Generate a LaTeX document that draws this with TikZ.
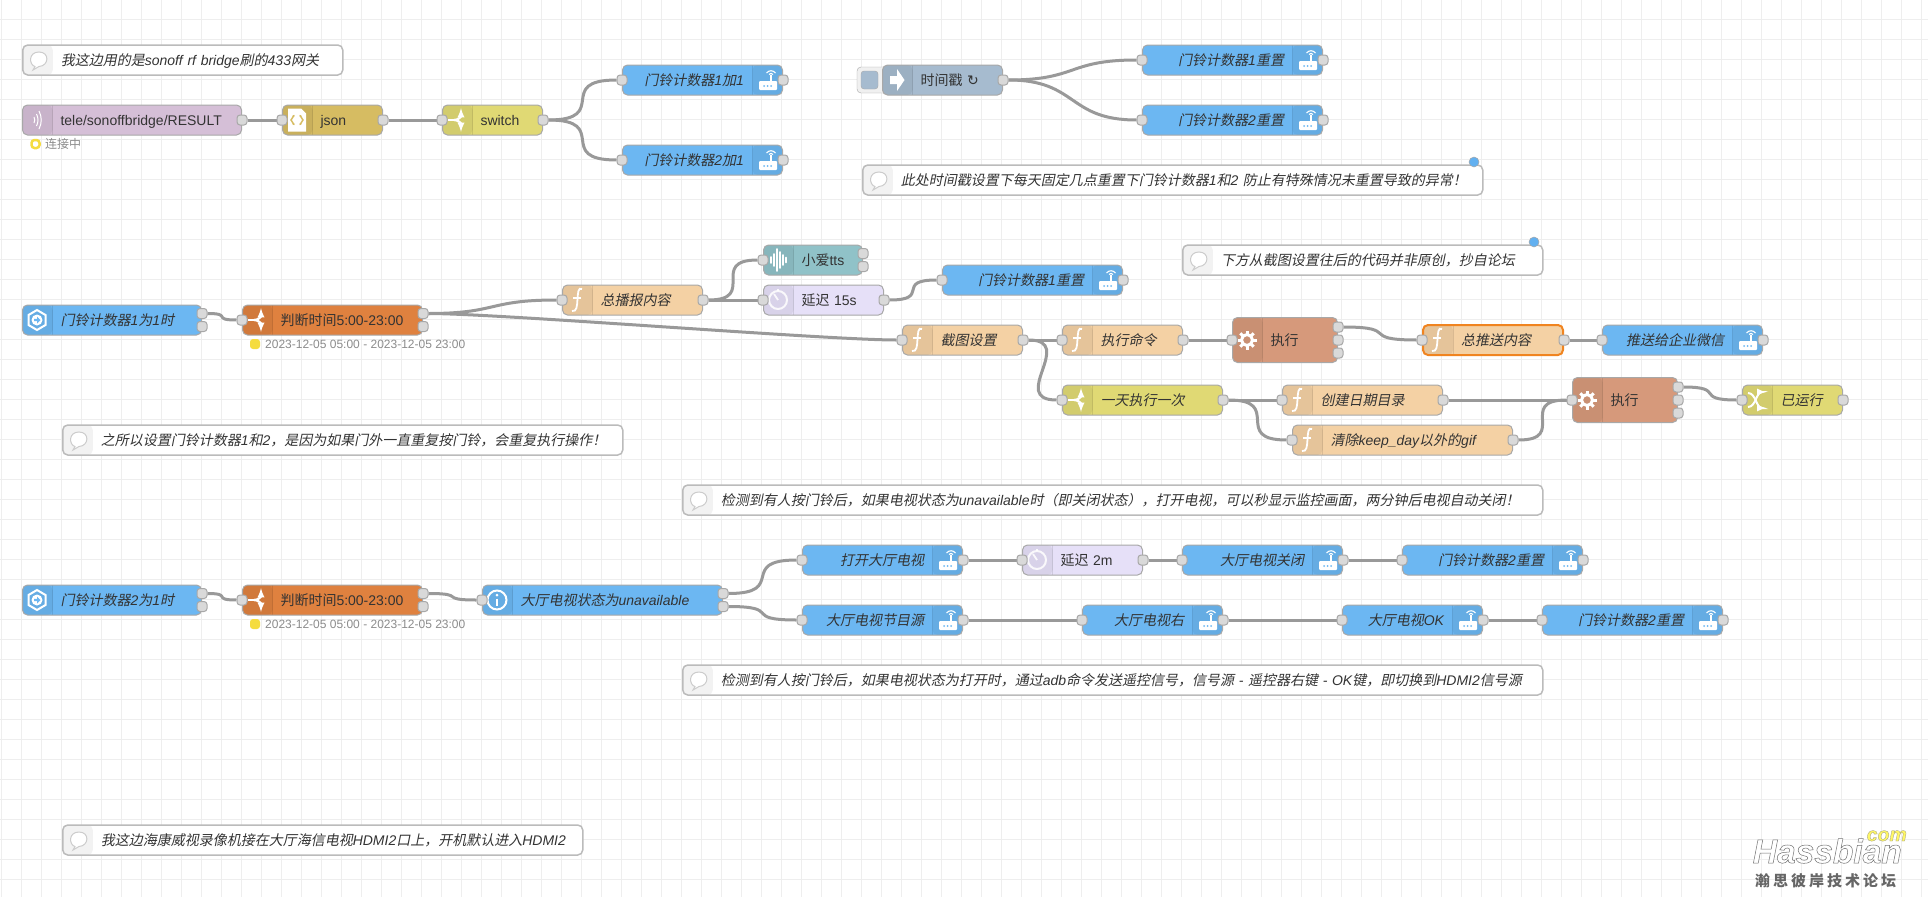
\documentclass[tikz,border=0pt]{standalone}
\usepackage{fontspec}
\setmainfont{Liberation Sans}
\newfontfamily\cjk[AutoFakeSlant=0.2]{Noto Sans CJK SC}
\newfontfamily\symf{DejaVu Sans}
\newfontfamily\wmfont[UprightFont={* Bold Italic},FakeBold=1.5]{Liberation Sans}
\newfontfamily\wmzh[LetterSpace=20]{Noto Sans CJK SC}
% han characters go to the cjk family, the rest stays in the main font
\newcount\cjkcode
\cjkcode="4E00
\loop\XeTeXcharclass\cjkcode=100 \advance\cjkcode by 1 \ifnum\cjkcode<"A000 \repeat
\cjkcode="3000
\loop\XeTeXcharclass\cjkcode=100 \advance\cjkcode by 1 \ifnum\cjkcode<"3040 \repeat
\cjkcode="FF00
\loop\XeTeXcharclass\cjkcode=100 \advance\cjkcode by 1 \ifnum\cjkcode<"FF60 \repeat
\def\cjkf{\cjk}
\XeTeXinterchartoks 0 100 = {\cjkf}
\XeTeXinterchartoks 4095 100 = {\cjkf}
\XeTeXinterchartoks 100 0 = {\rmfamily}
\XeTeXinterchartoks 100 4095 = {\rmfamily}
\XeTeXinterchartokenstate=1
\newcommand{\labelfont}{\fontsize{14}{16}\selectfont}
\definecolor{NodeLine}{HTML}{A8A8A8}
\definecolor{PortFill}{HTML}{D9D9D9}
\definecolor{WireC}{HTML}{999999}
\definecolor{GridC}{HTML}{EEEEEE}
\definecolor{LabelC}{HTML}{333333}
\definecolor{NoteLine}{HTML}{BBBBBB}
\definecolor{MqttC}{HTML}{D5BFD7}
\definecolor{JsonC}{HTML}{D6BC62}
\definecolor{SwitchC}{HTML}{E0D974}
\definecolor{HaC}{HTML}{6CB7F2}
\definecolor{InjC}{HTML}{A6BBCF}
\definecolor{TimeC}{HTML}{DF813F}
\definecolor{FnC}{HTML}{F4D1A4}
\definecolor{DelayC}{HTML}{E6E0F8}
\definecolor{TtsC}{HTML}{90C2C8}
\definecolor{ExecC}{HTML}{D6997B}
\definecolor{PickC}{HTML}{F08420}
\definecolor{DotC}{HTML}{F5DC3F}
\definecolor{BadgeC}{HTML}{62B0F0}
\usetikzlibrary{backgrounds}
\pgfdeclarelayer{gridlayer}
\pgfdeclarelayer{wirelayer}
\pgfsetlayers{gridlayer,wirelayer,main}
\tikzset{
  flow/.style={rectangle, draw=NodeLine, line width=1pt, rounded corners=5pt, minimum height=30pt, inner sep=0pt, anchor=west, text=LabelC, text height=12pt, text depth=2pt, font=\labelfont},
  italic/.style={font=\labelfont\itshape},
  lnode/.style 2 args={flow, fill=#2, minimum width=#1pt, text width=#1pt-2pt, align=left, execute at begin node={\kern37pt\relax},
    path picture={
      \fill[black,opacity=.06] (path picture bounding box.south west) rectangle ([xshift=30pt]path picture bounding box.north west);
      \draw[black,opacity=.1,line width=1pt] ([xshift=30pt]path picture bounding box.south west) -- ([xshift=30pt]path picture bounding box.north west);}},
  rnode/.style 2 args={flow, fill=#2, minimum width=#1pt, text width=#1pt-2pt, align=right, execute at end node={\kern37.5pt\relax},
    path picture={
      \fill[black,opacity=.06] (path picture bounding box.south east) rectangle ([xshift=-30pt]path picture bounding box.north east);
      \draw[black,opacity=.1,line width=1pt] ([xshift=-30pt]path picture bounding box.south east) -- ([xshift=-30pt]path picture bounding box.north east);}},
  cnode/.style={flow, draw=NoteLine, line width=1.5pt, italic, fill=white, minimum width=#1pt, text width=#1pt-2pt, align=left, execute at begin node={\kern37pt\relax},
    path picture={
      \fill[black!5] (path picture bounding box.south west) rectangle ([xshift=30pt]path picture bounding box.north west);}},
  port/.style={rectangle, draw=NodeLine, fill=PortFill, line width=1pt, rounded corners=3pt, minimum size=10pt, inner sep=0pt},
  wire/.style={draw=WireC, line width=3pt},
  gridline/.style={draw=GridC, line width=1pt},
  stat/.style={anchor=west, inner sep=0pt, text=gray!90, font=\fontsize{12}{14}\selectfont},
  solid dot/.style={rectangle, fill=DotC, rounded corners=3pt, minimum size=10pt, inner sep=0pt},
  ring dot/.style={rectangle, draw=DotC, fill=white, line width=2.5pt, rounded corners=3pt, minimum size=8pt, inner sep=0pt},
  badge/.style={circle, draw=NodeLine, fill=BadgeC, line width=.5pt, minimum size=10pt, inner sep=0pt},
  iconfn/.pic={
    \draw[white,line width=1.8pt] (5,-11) .. controls (1,-13) and (1,-7) .. (0.5,-1) .. controls (0,6) and (0,12) .. (-5,11);
    \draw[white,line width=1.5pt] (-4,-2) -- (4,-2);},
  iconsw/.pic={
    \draw[white,line width=2.2pt] (-9,0) -- (-3,0);
    \draw[white,line width=2.2pt,-latex] (-3,0) .. controls (1,0) and (4,-3) .. (4,-12);
    \draw[white,line width=2.2pt,-latex] (-3,0) .. controls (1,0) and (4,3) .. (4,12);},
  iconmix/.pic={
    \draw[white,line width=2pt,-latex] (-9,7) .. controls (-1,7) and (-1,-8) .. (5,-8) -- (9,-8);
    \draw[white,line width=2pt,-latex] (-9,-7) .. controls (-1,-7) and (-1,8) .. (5,8) -- (9,8);},
  iconhub/.pic={
    \fill[white,rounded corners=1pt] (-9,1) rectangle (9,10);
    \draw[white,line width=1.8pt] (3,2) -- (3,-5);
    \draw[white,line width=1.1pt] (-1.5,-7) .. controls (1,-10) and (5,-10) .. (7.5,-7);
    \draw[white,line width=1.1pt] (1,-5.5) .. controls (2,-7) and (4,-7) .. (5,-5.5);
    \foreach \dx in {-4,-0.5,3} \fill[HaC] (\dx,6) circle (1pt);},
  iconwave/.pic={
    \draw[white,line width=1pt] (-3,-3) .. controls (-2,-1) and (-2,1) .. (-3,3);
    \draw[white,line width=1pt] (-0.5,-6) .. controls (1.5,-2) and (1.5,2) .. (-0.5,6);
    \draw[white,line width=1pt] (2,-9) .. controls (5,-3) and (5,3) .. (2,9);},
  iconjson/.pic={
    \fill[white] (-9,-11.5) -- (4,-11.5) -- (9,-6.5) -- (9,11.5) -- (-9,11.5) -- cycle;
    \draw[JsonC,line width=1.5pt] (-2.5,-4.5) .. controls (-5,-4.5) and (-3.5,-1) .. (-6,0) .. controls (-3.5,1) and (-5,4.5) .. (-2.5,4.5);
    \draw[JsonC,line width=1.5pt] (2.5,-4.5) .. controls (5,-4.5) and (3.5,-1) .. (6,0) .. controls (3.5,1) and (5,4.5) .. (2.5,4.5);},
  iconinj/.pic={
    \fill[white] (-7,-4) -- (0,-4) -- (0,-11) -- (7.5,0) -- (0,11) -- (0,4) -- (-7,4) -- cycle;},
  iconstate/.pic={
    \draw[white,line width=2pt] (0,-10) -- (8.5,-5) -- (8.5,5) -- (0,10) -- (-8.5,5) -- (-8.5,-5) -- cycle;
    \fill[white] (0,0) circle (5.5pt);
    \fill[HaC] (-3,-1.2) -- (0,-1.2) -- (0,-3.5) -- (3.5,0) -- (0,3.5) -- (0,1.2) -- (-3,1.2) -- cycle;},
  iconinfo/.pic={
    \draw[white,line width=2pt] (0,0) circle (9.5pt);
    \fill[white] (0,-5) circle (1.5pt);
    \draw[white,line width=2.2pt] (0,-1.5) -- (0,6);},
  iconclock/.pic={
    \draw[white,line width=2pt,opacity=.85] (0,0) circle (9pt);
    \draw[white,line width=1.8pt,opacity=.85] (0,0) -- (-4,-6);
    \draw[white,line width=2pt,opacity=.85] (0,-9) -- (0,-11);},
  iconbars/.pic={
    \foreach \bx/\bh in {-7/3,-4/6,-1/11,2/8,5/5,8/2.5} \draw[white,line width=1.6pt,line cap=round] (\bx,-\bh) -- (\bx,\bh);},
  icongear/.pic={
    \draw[white,line width=3pt] (0,0) circle (5.5pt);
    \foreach \a in {0,45,...,315} \draw[white,line width=3pt] (\a:6) -- (\a:9.5);},
  iconnote/.pic={
    \draw[black!20,fill=white,line width=1pt] (-3,6.5) .. controls (-9,5) and (-10,-8) .. (1,-8) .. controls (12,-8) and (11,6) .. (1,6.5) -- (-5,10) -- cycle;},
}
\begin{document}
\begin{tikzpicture}[x=1pt, y=-1pt]
        \useasboundingbox (0,0) rectangle (1928,897);
        \begin{pgfonlayer}{gridlayer}
            \fill[white] (0,0) rectangle (1928,897);
            \foreach \gx in {1.7,21.7,...,1921.7} \draw[gridline] (\gx,0) -- (\gx,897);
            \foreach \gy in {19.5,39.5,...,879.5} \draw[gridline] (0,\gy) -- (1928,\gy);
        \end{pgfonlayer}

        % comments
        \node[cnode=320] (N1) at (22,60){我这边用的是sonoff rf bridge刷的433网关};
        \node[cnode=620] (N2) at (862,180){此处时间戳设置下每天固定几点重置下门铃计数器1和2 防止有特殊情况未重置导致的异常！};
        \node[cnode=360] (N3) at (1182,260){下方从截图设置往后的代码并非原创，抄自论坛};
        \node[cnode=560] (N4) at (62,440){之所以设置门铃计数器1和2，是因为如果门外一直重复按门铃，会重复执行操作！};
        \node[cnode=860] (N5) at (682,500){检测到有人按门铃后，如果电视状态为unavailable时（即关闭状态），打开电视，可以秒显示监控画面，两分钟后电视自动关闭！};
        \node[cnode=860] (N6) at (682,680){检测到有人按门铃后，如果电视状态为打开时，通过adb命令发送遥控信号，信号源 - 遥控器右键 - OK键，即切换到HDMI2信号源};
        \node[cnode=520] (N7) at (62,840){我这边海康威视录像机接在大厅海信电视HDMI2口上，开机默认进入HDMI2};
        \node[badge] (N2b) at (1474,162){};
        \node[badge] (N3b) at (1534,242){};

        % first row
        \node[lnode={219}{MqttC}] (Mq) at (22,120){tele/sonoffbridge/RESULT};
        \node[lnode={100}{JsonC}] (Js) at (282,120){json};
        \node[lnode={100}{SwitchC}] (Sw) at (442,120){switch};
        \node[rnode={160}{HaC}, italic] (Add1) at (622,80){门铃计数器1加1};
        \node[rnode={160}{HaC}, italic] (Add2) at (622,160){门铃计数器2加1};
        \node[ring dot] (MqD) at (35.5,144){};
        \node[stat] (MqS) at (45,144){连接中};

        \node[rectangle, draw=NodeLine, fill=black!6, rounded corners=4pt, minimum width=34pt, minimum height=26pt, inner sep=0pt] (InjB) at (874,80){};
        \node[rectangle, draw=NodeLine, fill=InjC, rounded corners=3pt, minimum width=17pt, minimum height=18pt, inner sep=0pt] (InjF) at (869.5,80){};
        \node[lnode={120}{InjC}] (Inj) at (882,80){时间戳 {\symf ↻}};
        \node[rnode={180}{HaC}, italic] (Rs1) at (1142,60){门铃计数器1重置};
        \node[rnode={180}{HaC}, italic] (Rs2) at (1142,120){门铃计数器2重置};

        % second row
        \node[lnode={179}{HaC}, italic] (Chg1) at (22,320){门铃计数器1为1时};
        \node[lnode={180}{TimeC}] (Tm1) at (242,320){判断时间5:00-23:00};
        \node[solid dot] (Tm1D) at (255,344){};
        \node[stat] (Tm1S) at (265,344){2023-12-05 05:00 - 2023-12-05 23:00};
        \node[lnode={140}{FnC}, italic] (Say) at (562,300){总播报内容};
        \node[lnode={99}{TtsC}] (Tts) at (763,260){小爱tts};
        \node[lnode={120}{DelayC}] (Dl1) at (763,300){延迟 15s};
        \node[rnode={180}{HaC}, italic] (Rs3) at (942,280){门铃计数器1重置};
        \node[lnode={120}{FnC}, italic] (Shot) at (902,340){截图设置};
        \node[lnode={120}{FnC}, italic] (Cmd) at (1062,340){执行命令};
        \node[lnode={105}{ExecC}, minimum height=45pt] (Ex1) at (1232,340){执行};
        \node[lnode={140}{FnC}, italic, draw=PickC, line width=2pt] (Push) at (1422,340){总推送内容};
        \node[rnode={160}{HaC}, italic] (Wx) at (1602,340){推送给企业微信};
        \node[lnode={160}{SwitchC}, italic] (Once) at (1062,400){一天执行一次};
        \node[lnode={160}{FnC}, italic] (Mk) at (1282,400){创建日期目录};
        \node[lnode={220}{FnC}, italic] (Cln) at (1292,440){清除keep\_day以外的gif};
        \node[lnode={105}{ExecC}, minimum height=45pt] (Ex2) at (1572,400){执行};
        \node[lnode={100}{SwitchC}, italic] (Done) at (1742,400){已运行};

        % third row
        \node[lnode={179}{HaC}, italic] (Chg2) at (22,600){门铃计数器2为1时};
        \node[lnode={180}{TimeC}] (Tm2) at (242,600){判断时间5:00-23:00};
        \node[solid dot] (Tm2D) at (255,624){};
        \node[stat] (Tm2S) at (265,624){2023-12-05 05:00 - 2023-12-05 23:00};
        \node[lnode={240}{HaC}, italic] (St) at (482,600){大厅电视状态为unavailable};
        \node[rnode={160}{HaC}, italic] (TvOn) at (802,560){打开大厅电视};
        \node[lnode={120}{DelayC}] (Dl2) at (1022,560){延迟 2m};
        \node[rnode={160}{HaC}, italic] (TvOff) at (1182,560){大厅电视关闭};
        \node[rnode={180}{HaC}, italic] (Rs4) at (1402,560){门铃计数器2重置};
        \node[rnode={160}{HaC}, italic] (TvSrc) at (802,620){大厅电视节目源};
        \node[rnode={140}{HaC}, italic] (TvR) at (1082,620){大厅电视右};
        \node[rnode={140}{HaC}, italic] (TvOk) at (1342,620){大厅电视OK};
        \node[rnode={180}{HaC}, italic] (Rs5) at (1542,620){门铃计数器2重置};

        % watermark
        \node[anchor=base east, inner sep=0pt, text=white, font=\wmfont\fontsize{33.5}{36}\selectfont] (WmH) at (1902,863){\special{pdf:code 0.45 0.45 0.45 RG}Hassbian};
        \node[anchor=base east, inner sep=0pt, text=yellow!60, font=\wmfont\fontsize{19.5}{22}\selectfont] (WmC) at (1907,841){\special{pdf:code 0.6 0.6 0.5 RG}com};
        \node[anchor=base west, inner sep=0pt, text=black!60, font=\def\cjkf{\wmzh\bfseries}\fontsize{15}{17}\selectfont] (WmZ) at (1755,886){瀚思彼岸技术论坛};

        % icons
        \foreach \n in {N1,N2,N3,N4,N5,N6,N7} \pic at ([xshift=16pt]\n.west) {iconnote};
        \foreach \n in {Say,Shot,Cmd,Push,Mk,Cln} \pic at ([xshift=15pt]\n.west) {iconfn};
        \foreach \n in {Sw,Tm1,Tm2,Once} \pic at ([xshift=15pt]\n.west) {iconsw};
        \foreach \n in {Add1,Add2,Rs1,Rs2,Rs3,Rs4,Rs5,Wx,TvOn,TvOff,TvSrc,TvR,TvOk} \pic at ([xshift=-15pt]\n.east) {iconhub};
        \foreach \n in {Chg1,Chg2} \pic at ([xshift=15pt]\n.west) {iconstate};
        \foreach \n in {Dl1,Dl2} \pic at ([xshift=15pt]\n.west) {iconclock};
        \foreach \n in {Ex1,Ex2} \pic at ([xshift=15pt]\n.west) {icongear};
        \pic at ([xshift=15pt]Mq.west) {iconwave};
        \pic at ([xshift=15pt]Js.west) {iconjson};
        \pic at ([xshift=15pt]Inj.west) {iconinj};
        \pic at ([xshift=15pt]St.west) {iconinfo};
        \pic at ([xshift=15pt]Tts.west) {iconbars};
        \pic at ([xshift=15pt]Done.west) {iconmix};

        % ports
        \foreach \n in {Js,Sw,Add1,Add2,Rs1,Rs2,Tm1,Say,Tts,Dl1,Rs3,Shot,Cmd,Ex1,Push,Wx,Once,Mk,Cln,Ex2,Done,Tm2,St,TvOn,Dl2,TvOff,Rs4,TvSrc,TvR,TvOk,Rs5}
            \node[port] (\n-i) at (\n.west){};
        \foreach \n in {Mq,Js,Sw,Add1,Add2,Inj,Rs1,Rs2,Say,Dl1,Rs3,Shot,Cmd,Push,Wx,Once,Mk,Cln,Done,TvOn,Dl2,TvOff,Rs4,TvSrc,TvR,TvOk,Rs5}
            \node[port] (\n-o) at (\n.east){};
        \foreach \n in {Chg1,Tm1,Tts,Chg2,Tm2,St}{
            \node[port] (\n-o) at ([yshift=6.5pt]\n.east){};
            \node[port] (\n-p) at ([yshift=-6.5pt]\n.east){};
        }
        \foreach \n in {Ex1,Ex2}{
            \node[port] (\n-o) at ([yshift=13pt]\n.east){};
            \node[port] (\n-p) at (\n.east){};
            \node[port] (\n-q) at ([yshift=-13pt]\n.east){};
        }

        \begin{pgfonlayer}{wirelayer}
        \draw[wire] (Mq-o) -- (Js-i);
        \draw[wire] (Js-o) -- (Sw-i);
        \draw[wire] (Sw-o) .. controls +(68,0) and +(-68,0) .. (Add1-i);
        \draw[wire] (Sw-o) .. controls +(68,0) and +(-68,0) .. (Add2-i);
        \draw[wire] (Inj-o) .. controls +(75,0) and +(-75,0) .. (Rs1-i);
        \draw[wire] (Inj-o) .. controls +(75,0) and +(-75,0) .. (Rs2-i);

        \draw[wire] (Chg1-o) .. controls +(31,0) and +(-31,0) .. (Tm1-i);
        \draw[wire] (Tm1-o) .. controls +(75,0) and +(-75,0) .. (Say-i);
        \draw[wire] (Tm1-o) .. controls +(75,0) and +(-75,0) .. (Shot-i);
        \draw[wire] (Say-o) .. controls +(55,0) and +(-55,0) .. (Tts-i);
        \draw[wire] (Say-o) -- (Dl1-i);
        \draw[wire] (Dl1-o) .. controls +(48,0) and +(-48,0) .. (Rs3-i);
        \draw[wire] (Shot-o) -- (Cmd-i);
        \draw[wire] (Shot-o) .. controls +(54,0) and +(-54,0) .. (Once-i);
        \draw[wire] (Cmd-o) -- (Ex1-i);
        \draw[wire] (Ex1-o) .. controls +(64,0) and +(-64,0) .. (Push-i);
        \draw[wire] (Push-o) -- (Wx-i);
        \draw[wire] (Once-o) -- (Mk-i);
        \draw[wire] (Once-o) .. controls +(61,0) and +(-61,0) .. (Cln-i);
        \draw[wire] (Mk-o) -- (Ex2-i);
        \draw[wire] (Cln-o) .. controls +(55,0) and +(-55,0) .. (Ex2-i);
        \draw[wire] (Ex2-o) .. controls +(49,0) and +(-49,0) .. (Done-i);

        \draw[wire] (Chg2-o) .. controls +(31,0) and +(-31,0) .. (Tm2-i);
        \draw[wire] (Tm2-o) .. controls +(45,0) and +(-45,0) .. (St-i);
        \draw[wire] (St-o) .. controls +(65,0) and +(-65,0) .. (TvOn-i);
        \draw[wire] (St-p) .. controls +(61,0) and +(-61,0) .. (TvSrc-i);
        \draw[wire] (TvOn-o) -- (Dl2-i);
        \draw[wire] (Dl2-o) -- (TvOff-i);
        \draw[wire] (TvOff-o) -- (Rs4-i);
        \draw[wire] (TvSrc-o) -- (TvR-i);
        \draw[wire] (TvR-o) -- (TvOk-i);
        \draw[wire] (TvOk-o) -- (Rs5-i);
        \end{pgfonlayer}

    \end{tikzpicture}
\end{document}
